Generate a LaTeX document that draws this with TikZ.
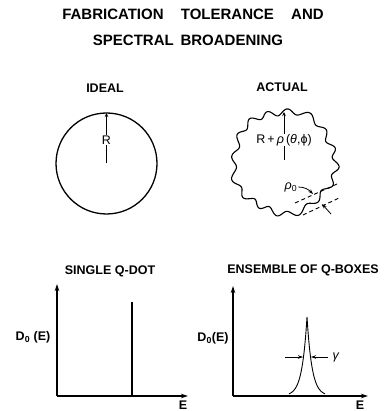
\documentclass[tikz,border=0pt]{standalone}
\usepackage{fontspec}
\setmainfont{Liberation Sans}
\usetikzlibrary{arrows.meta}
\begin{document}
\begin{tikzpicture}[x=1pt,y=-1pt,
  lbl/.style={font=\fontsize{12.5}{14}\selectfont\bfseries, inner sep=1pt},
  sym/.style={font=\fontsize{12.5}{14}\selectfont, inner sep=1pt},
  ttl/.style={font=\fontsize{15}{18}\selectfont\bfseries, inner sep=0pt},
  axis/.style={line width=1.2pt, -{Stealth[length=7pt,width=4.5pt]}},
  thick line/.style={line width=1.3pt},
  dsh/.style={line width=0.9pt, dash pattern=on 4pt off 3pt},
  small arrow/.style={line width=0.8pt, -{Stealth[length=5pt,width=3.5pt]}}
]
\useasboundingbox (0,0) rectangle (383,411);
% title
\node[ttl] (t1) at (193,14) {FABRICATION\hspace{1.15em}TOLERANCE\hspace{1.15em}AND};
\node[ttl] (t2) at (188,40) {SPECTRAL\hspace{0.45em}BROADENING};

% ideal
\node[lbl] (ideal) at (105,88) {IDEAL};
\coordinate (c1) at (106.5,163.5);
\draw[thick line] (c1) circle (50.5);
\coordinate (c1top) at (106.5,113);
\draw[line width=0.8pt, -{Stealth[length=4pt,width=3.5pt]}] (c1) -- (c1top);
\node[sym, fill=white, inner sep=0.5pt] (R) at (106.5,140) {R};

% actual
\node[lbl] (actual) at (282,87) {ACTUAL};
\coordinate (c2) at (284,162);
\draw[line width=1.1pt] plot[smooth cycle, samples=240, domain=0:358.5, variable=\t]
  ({284+(51+3.0*sin(16*\t+35*sin(3*\t))+1.5*sin(5*\t+40))*cos(\t)},
   {162+(51+3.0*sin(16*\t+35*sin(3*\t))+1.5*sin(5*\t+40))*sin(\t)});
\coordinate (c2top) at (284,112);
\draw[line width=0.8pt, -{Stealth[length=4pt,width=3.5pt]}] (284,160) -- (c2top);
\node[sym, fill=white, inner sep=0.5pt] (Rrho) at (284,140) {R\,+\,\textit{ρ}\,(\textit{θ},ϕ)};
\node[sym] (rho0) at (291,187) {\textit{ρ}\textsubscript{0}};
\coordinate (da1) at (295,203);
\coordinate (da2) at (337,184);
\coordinate (db1) at (303,215);
\coordinate (db2) at (339,198);
\draw[dsh] (da1) -- (da2);
\draw[dsh] (db1) -- (db2);
\coordinate (a1end) at (313,194);
\draw[small arrow] (rho0.east) to[out=0,in=135] (a1end);
\coordinate (a2s) at (331,214);
\coordinate (a2e) at (322,204);
\draw[small arrow] (a2s) -- (a2e);

% single q-dot
\node[lbl] (single) at (110,271) {SINGLE Q-DOT};
\coordinate (o1) at (57,396);
\coordinate (y1) at (57,284);
\coordinate (x1) at (188,396);
\draw[axis] (o1) -- (y1);
\draw[axis] (o1) -- (x1);
\coordinate (sb) at (132,396);
\coordinate (st) at (132,302);
\draw[line width=1.1pt] (sb) -- (st);
\node[lbl] (d1) at (33,337) {D\textsubscript{0} (E)};
\node[lbl] (e1) at (183,405) {E};

% ensemble
\node[lbl] (ens) at (303,270) {ENSEMBLE OF Q-BOXES};
\coordinate (o2) at (233,396);
\coordinate (y2) at (233,286);
\coordinate (x2) at (368,396);
\draw[axis] (o2) -- (y2);
\draw[axis] (o2) -- (x2);
\draw[line width=0.9pt] plot[samples=161, domain=289:325, variable=\x]
  (\x, {396-79*exp(-abs(\x-307)/5)});
\coordinate (gl) at (285,357);
\coordinate (glt) at (303,357);
\coordinate (gr) at (328,357);
\coordinate (grt) at (311,357);
\draw[small arrow] (gl) -- (glt);
\draw[small arrow] (gr) -- (grt);
\node[sym] (gamma) at (336,357) {\textit{γ}};
\node[lbl] (d2) at (213,338) {D\textsubscript{0}(E)};
\node[lbl] (e2) at (360,405) {E};
\end{tikzpicture}
\end{document}
